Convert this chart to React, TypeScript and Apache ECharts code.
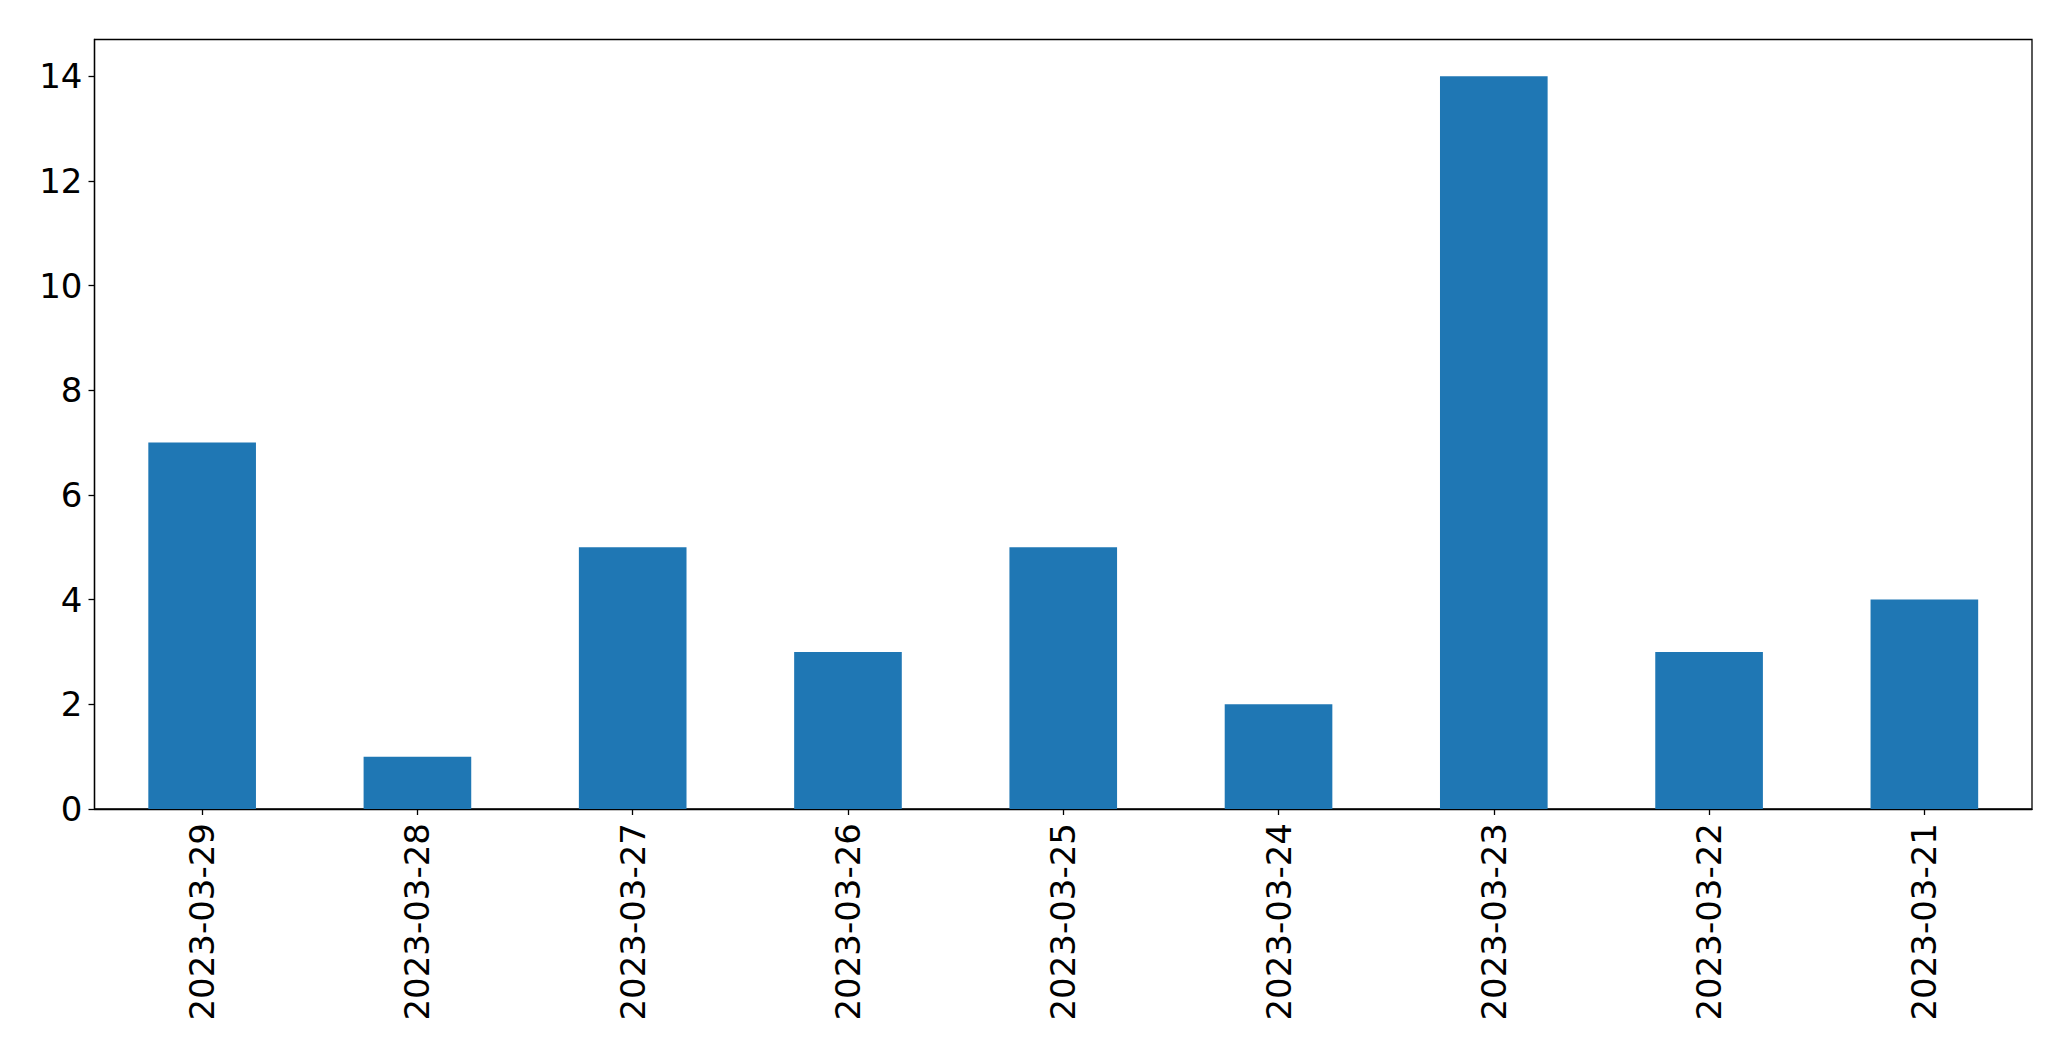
import React, { useEffect, useRef } from "react";
import * as echarts from "echarts";

const categories = [
  "2023-03-29",
  "2023-03-28",
  "2023-03-27",
  "2023-03-26",
  "2023-03-25",
  "2023-03-24",
  "2023-03-23",
  "2023-03-22",
  "2023-03-21",
];
const values = [7, 1, 5, 3, 5, 2, 14, 3, 4];
const yTicks = [0, 2, 4, 6, 8, 10, 12, 14];

export default function App() {
  const ref = useRef<HTMLDivElement>(null);
  useEffect(() => {
    if (!ref.current) return;
    const chart = echarts.init(ref.current, null, { renderer: "svg" });
    const font = "DejaVu Sans";
    chart.setOption({
      animation: false,
      backgroundColor: "#ffffff",
      grid: {
        left: 94.5,
        top: 39.5,
        width: 1937.5,
        height: 769.5,
        show: true,
        borderColor: "#000000",
        borderWidth: 1.3,
        backgroundColor: "transparent",
        containLabel: false,
      },
      xAxis: {
        type: "category",
        data: categories,
        boundaryGap: true,
        axisLine: { show: true, lineStyle: { color: "#000", width: 1.3 } },
        axisTick: { show: true, alignWithLabel: true, length: 6, lineStyle: { color: "#000", width: 1.3 } },
        axisLabel: {
          rotate: 90,
          color: "#000",
          fontFamily: font,
          fontSize: 34,
          margin: 14,
          interval: 0,
        },
        splitLine: { show: false },
      },
      yAxis: {
        type: "value",
        min: 0,
        max: 14.7,
        axisLine: { show: true, lineStyle: { color: "#000", width: 1.3 } },
        axisTick: {
          show: true,
          length: 6,
          lineStyle: { color: "#000", width: 1.3 },
          customValues: yTicks,
        },
        axisLabel: {
          color: "#000",
          fontFamily: font,
          fontSize: 34,
          margin: 12,
          customValues: yTicks,
        },
        splitLine: { show: false },
      },
      series: [
        {
          type: "bar",
          data: values,
          barWidth: "50%",
          itemStyle: { color: "#1f77b4" },
        },
      ],
    });
    return () => chart.dispose();
  }, []);
  return (
    <div
      ref={ref}
      style={{ position: "fixed", left: 0, top: 0, width: 2071, height: 1061 }}
    />
  );
}
